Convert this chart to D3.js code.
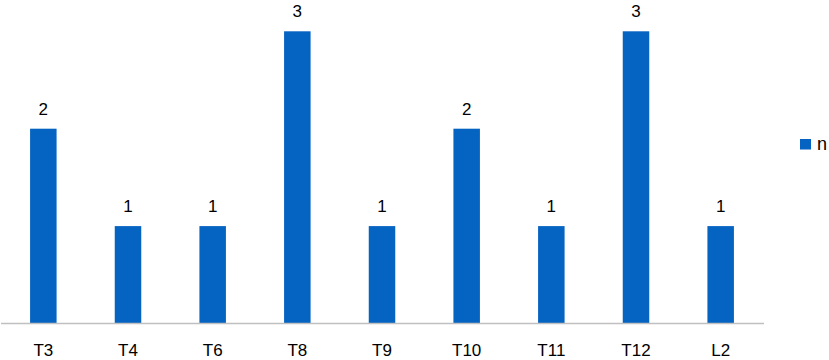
<!DOCTYPE html>
<html>
<head>
<meta charset="utf-8">
<script src="https://cdn.jsdelivr.net/npm/d3@7"></script>
<style>
  body { margin: 0; background: #fff; }
  svg text { font-family: "Liberation Sans", Arial, sans-serif; fill: #000; }
</style>
</head>
<body>
<div id="chart"></div>
<script>
// chart data
const categories = ["T3", "T4", "T6", "T8", "T9", "T10", "T11", "T12", "L2"];
const values = [2, 1, 1, 3, 1, 2, 1, 3, 1];
const seriesName = "n";

const svgWidth = 829;
const svgHeight = 360;
const barColor = "#0563C1";

const svg = d3.select("#chart")
    .append("svg")
    .attr("width", svgWidth)
    .attr("height", svgHeight);

// scales
const xScale = d3.scaleBand()
    .domain(categories)
    .range([1, 763])
    .paddingInner(0.687)
    .paddingOuter(0.3435);

const yScale = d3.scaleLinear()
    .domain([0, 3])
    .range([323.5, 31.3]);

const data = categories.map((c, i) => ({ cat: c, val: values[i] }));

// bars
svg.selectAll(".bar")
    .data(data)
    .enter().append("rect")
    .attr("class", "bar")
    .attr("x", d => xScale(d.cat))
    .attr("y", d => yScale(d.val))
    .attr("width", xScale.bandwidth())
    .attr("height", d => yScale(0) - yScale(d.val))
    .attr("fill", barColor);

// value labels above bars
svg.selectAll(".val")
    .data(data)
    .enter().append("text")
    .attr("class", "val")
    .attr("x", d => xScale(d.cat) + xScale.bandwidth() / 2)
    .attr("y", d => yScale(d.val) - 14)
    .attr("text-anchor", "middle")
    .style("font-size", "17px")
    .text(d => d.val);

// x axis
const xAxis = svg.append("g")
    .attr("transform", `translate(0,${yScale(0)})`)
    .call(d3.axisBottom(xScale).tickSize(0).tickPadding(20));
xAxis.select(".domain").attr("stroke", "#c0c0c0").attr("stroke-width", 1.3)
    .attr("d", "M1,0H764");
xAxis.selectAll("text")
    .attr("dy", "0.71em")
    .style("font-size", "17px")
    .style("font-family", "'Liberation Sans', Arial, sans-serif")
    .attr("fill", "#000");

// legend
const legend = svg.append("g").attr("transform", "translate(800,139)");
legend.append("rect")
    .attr("width", 11)
    .attr("height", 10.5)
    .attr("fill", barColor);
legend.append("text")
    .attr("x", 17)
    .attr("y", 10.5)
    .style("font-size", "18px")
    .text(seriesName);
</script>
</body>
</html>
